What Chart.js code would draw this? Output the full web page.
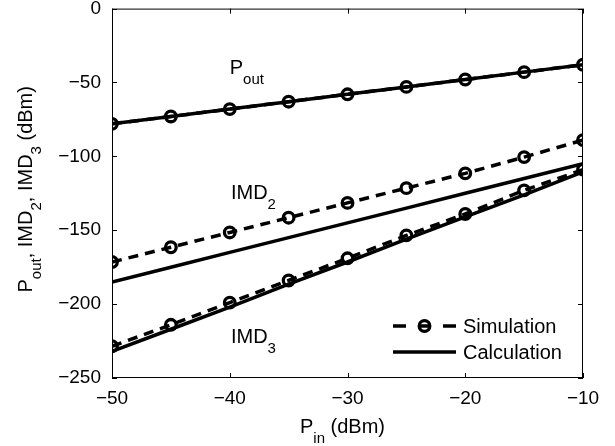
<!DOCTYPE html>
<html>
<head>
<meta charset="utf-8">
<script src="https://cdn.jsdelivr.net/npm/chart.js@4.4.1/dist/chart.umd.min.js"></script>
<style>
  html, body { margin: 0; padding: 0; background: #fff; }
</style>
</head>
<body>
<canvas id="myChart" width="615" height="446"></canvas>
<script>
// input power sweep (dBm)
const pin = [-50, -45, -40, -35, -30, -25, -20, -15, -10];

// series (dBm)
const poutSim  = [-78, -73, -68, -63, -58, -53, -48, -43, -38];
const poutCalc = [-78, -73, -68, -63, -58, -53, -48, -43, -38];
const imd2Sim  = [-171.5, -161.5, -151.5, -141.5, -131.5, -121.5, -111.5, -100.5, -89];
const imd2Calc = [-185, -175, -165, -155, -145, -135, -125, -115, -105];
const imd3Sim  = [-228.5, -214, -199, -184, -169, -153.5, -139, -123, -109];
const imd3Calc = [-232, -217, -202, -186.5, -171.5, -156, -141, -126, -110.5];

const xTicks = [-50, -40, -30, -20, -10];
const yTicks = [0, -50, -100, -150, -200, -250];
const legendLabels = ["Simulation", "Calculation"];

const FONT = "'Liberation Sans', Arial, Helvetica, sans-serif";

function pts(ys) {
    return pin.map((x, i) => ({ x: x, y: ys[i] }));
}
function minus(v) {
    return String(v).replace('-', '\u2212');
}

const simStyle = {
    borderColor: '#000',
    borderWidth: 3.5,
    borderDash: [10, 7],
    pointStyle: 'circle',
    pointRadius: 5.3,
    pointBorderWidth: 3.3,
    pointBorderColor: '#000',
    pointBackgroundColor: 'rgba(0,0,0,0)',
    showLine: true,
    fill: false,
    tension: 0
};
const calcStyle = {
    borderColor: '#000',
    borderWidth: 3.5,
    pointRadius: 0,
    showLine: true,
    fill: false,
    tension: 0
};

// text with a subscript part: [text, isSub]
function drawParts(ctx, parts, x, y, size, subSize, subDy, align) {
    let total = 0;
    const widths = parts.map(p => {
        ctx.font = (p[1] ? subSize : size) + 'px ' + FONT;
        const w = ctx.measureText(p[0]).width;
        total += w;
        return w;
    });
    let cx = align === 'center' ? x - total / 2 : x;
    parts.forEach((p, i) => {
        ctx.font = (p[1] ? subSize : size) + 'px ' + FONT;
        ctx.fillText(p[0], cx, p[1] ? y + subDy : y);
        cx += widths[i];
    });
}

const framePlugin = {
    id: 'frame',
    beforeDatasetsDraw(chart) {
        const ctx = chart.ctx;
        const a = chart.chartArea;
        const sx = chart.scales.x, sy = chart.scales.y;
        ctx.save();
        ctx.strokeStyle = '#000';
        ctx.lineWidth = 1;
        ctx.strokeRect(a.left + 0.5, a.top + 0.5, a.right - a.left - 1, a.bottom - a.top - 1);
        ctx.beginPath();
        xTicks.forEach(v => {
            const px = Math.round(sx.getPixelForValue(v)) + 0.5;
            ctx.moveTo(px, a.bottom); ctx.lineTo(px, a.bottom - 5);
            ctx.moveTo(px, a.top); ctx.lineTo(px, a.top + 5);
        });
        yTicks.forEach(v => {
            const py = Math.round(sy.getPixelForValue(v)) + 0.5;
            ctx.moveTo(a.left, py); ctx.lineTo(a.left + 5, py);
            ctx.moveTo(a.right, py); ctx.lineTo(a.right - 5, py);
        });
        ctx.stroke();
        ctx.restore();
    },
    afterDraw(chart) {
        const ctx = chart.ctx;
        const a = chart.chartArea;
        const sx = chart.scales.x, sy = chart.scales.y;
        ctx.save();
        ctx.fillStyle = '#000';
        ctx.textBaseline = 'alphabetic';
        ctx.textAlign = 'left';

        // curve labels
        drawParts(ctx, [['P', false], ['out', true]],
            sx.getPixelForValue(-40), sy.getPixelForValue(-44.5), 20, 15, 10, 'left');
        drawParts(ctx, [['IMD', false], ['2', true]],
            sx.getPixelForValue(-39.9), sy.getPixelForValue(-128.7), 20, 15, 10, 'left');
        drawParts(ctx, [['IMD', false], ['3', true]],
            sx.getPixelForValue(-39.9), sy.getPixelForValue(-226), 20, 15, 10, 'left');

        // x axis title
        drawParts(ctx, [['P', false], ['in', true], [' (dBm)', false]],
            (a.left + a.right) / 2 - 5, 433, 20, 15, 10, 'center');

        // y axis title, rotated
        ctx.save();
        ctx.translate(32, (a.top + a.bottom) / 2 - 4);
        ctx.rotate(-Math.PI / 2);
        drawParts(ctx, [['P', false], ['out', true], [', IMD', false], ['2', true],
            [', IMD', false], ['3', true], [' (dBm)', false]], 0, 0, 20, 15, 9, 'center');
        ctx.restore();

        // legend
        const rows = [326, 352];
        const x0 = 393, x1 = 456;
        ctx.strokeStyle = '#000';
        ctx.lineWidth = 3.5;
        ctx.setLineDash([13, 12]);
        ctx.beginPath(); ctx.moveTo(x0, rows[0]); ctx.lineTo(x1, rows[0]); ctx.stroke();
        ctx.setLineDash([]);
        ctx.lineWidth = 3.3;
        ctx.beginPath(); ctx.arc((x0 + x1) / 2, rows[0], 5.3, 0, Math.PI * 2); ctx.stroke();
        ctx.lineWidth = 3.5;
        ctx.beginPath(); ctx.moveTo(x0, rows[1]); ctx.lineTo(x1, rows[1]); ctx.stroke();
        ctx.font = '20px ' + FONT;
        ctx.textBaseline = 'middle';
        ctx.fillText(legendLabels[0], 463, rows[0] + 1);
        ctx.fillText(legendLabels[1], 463, rows[1] + 1);
        ctx.restore();
    }
};

new Chart(document.getElementById('myChart'), {
    type: 'scatter',
    data: {
        datasets: [
            Object.assign({ label: 'Pout ' + legendLabels[0], data: pts(poutSim) }, simStyle),
            Object.assign({ label: 'IMD2 ' + legendLabels[0], data: pts(imd2Sim) }, simStyle),
            Object.assign({ label: 'IMD3 ' + legendLabels[0], data: pts(imd3Sim) }, simStyle),
            Object.assign({ label: 'Pout ' + legendLabels[1], data: pts(poutCalc) }, calcStyle),
            Object.assign({ label: 'IMD2 ' + legendLabels[1], data: pts(imd2Calc) }, calcStyle),
            Object.assign({ label: 'IMD3 ' + legendLabels[1], data: pts(imd3Calc) }, calcStyle)
        ]
    },
    options: {
        responsive: false,
        animation: false,
        layout: { padding: { top: 7, right: 32, left: 0, bottom: 0 } },
        plugins: { legend: { display: false }, tooltip: { enabled: false } },
        scales: {
            x: {
                type: 'linear',
                min: -50,
                max: -10,
                afterBuildTicks: s => { s.ticks = xTicks.map(v => ({ value: v })); },
                grid: { display: false, drawTicks: false },
                border: { display: false },
                ticks: {
                    padding: 9,
                    color: '#000',
                    maxRotation: 0,
                    font: { family: FONT, size: 19 },
                    callback: v => minus(v)
                },
                afterFit: s => { s.height = 68; s.paddingLeft = 0; s.paddingRight = 0; }
            },
            y: {
                type: 'linear',
                min: -250,
                max: 0,
                afterBuildTicks: s => { s.ticks = yTicks.map(v => ({ value: v })); },
                grid: { display: false, drawTicks: false },
                border: { display: false },
                ticks: {
                    padding: 11,
                    color: '#000',
                    font: { family: FONT, size: 19, lineHeight: 0.7 },
                    callback: v => minus(v)
                },
                afterFit: s => { s.width = 112; s.paddingTop = 0; s.paddingBottom = 0; }
            }
        }
    },
    plugins: [framePlugin]
});
</script>
</body>
</html>
